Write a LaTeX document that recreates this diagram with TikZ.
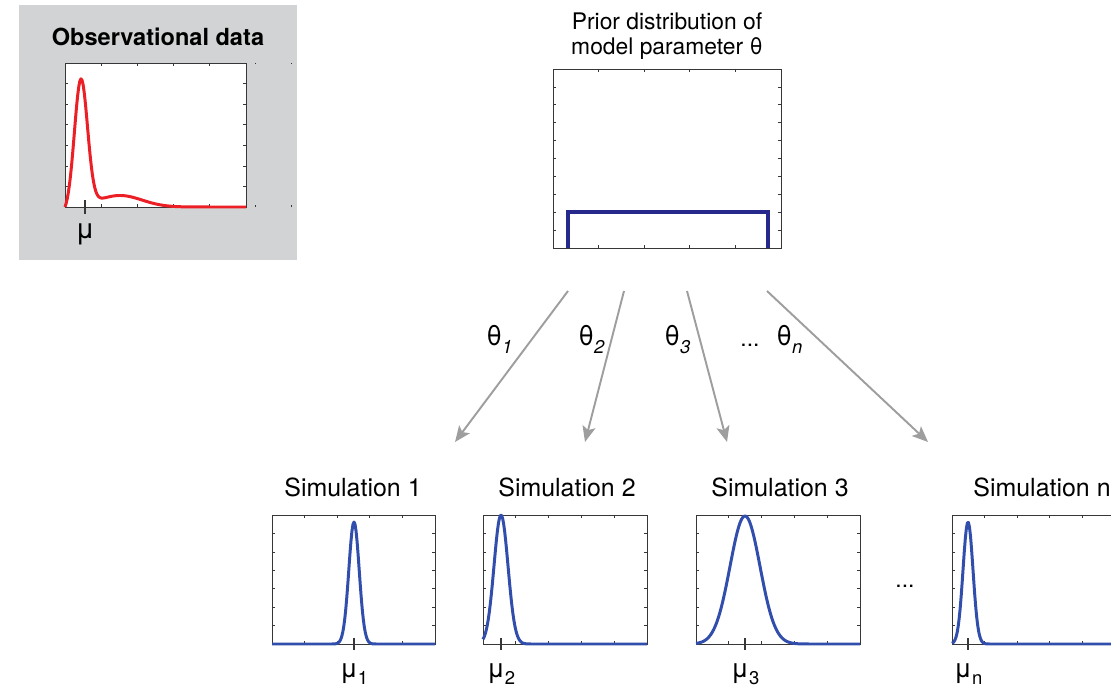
\documentclass[tikz,border=0pt]{standalone}
\usepackage{fontspec}
\setmainfont{TeX Gyre Heros}
\usetikzlibrary{arrows.meta}
\usetikzlibrary{positioning}

\definecolor{obsgray}{RGB}{209,211,212}
\definecolor{framegray}{RGB}{55,55,55}
\definecolor{arrowgray}{RGB}{158,158,158}
\definecolor{simblue}{RGB}{50,78,172}
\definecolor{priorblue}{RGB}{38,40,140}
\definecolor{obsred}{RGB}{236,30,38}

\newcommand{\lowsub}[2][4pt]{\raisebox{-#1}{\fontsize{10.5}{10.5}\selectfont #2}}

% frame with inner ticks: x0, y0, x1, y1, x-intervals, y-intervals
\newcommand{\tickframe}[6]{%
  \draw[frame] (#1,#2) rectangle (#3,#4);
  \pgfmathsetmacro{\tfdx}{(#3-#1)/#5}
  \pgfmathsetmacro{\tfdy}{(#4-#2)/#6}
  \pgfmathtruncatemacro{\tfnx}{#5-1}
  \pgfmathtruncatemacro{\tfny}{#6-1}
  \foreach \k in {1,...,\tfnx} {
    \draw[tick] ({#1+\k*\tfdx},#2) -- ++(0,3);
    \draw[tick] ({#1+\k*\tfdx},#4) -- ++(0,-3);
  }
  \foreach \k in {1,...,\tfny} {
    \draw[tick] (#1,{#2+\k*\tfdy}) -- ++(3,0);
    \draw[tick] (#3,{#2+\k*\tfdy}) -- ++(-3,0);
  }
}

\begin{document}
\begin{tikzpicture}[
    x=0.02cm, y=-0.02cm,
    frame/.style={draw=framegray, line width=0.55pt},
    tick/.style={draw=framegray, line width=0.4pt},
    curve/.style={line width=1.7pt, line join=round},
    txt/.style={font=\fontsize{13}{14}\selectfont, inner sep=0pt},
    simtxt/.style={txt, font=\fontsize{14.2}{15}\selectfont},
    mutxt/.style={txt, font=\fontsize{15}{15}\selectfont},
    thtxt/.style={txt, font=\fontsize{15.5}{15.5}\selectfont, anchor=base west},
    flow/.style={draw=arrowgray, line width=1.1pt, -{Stealth[length=9pt, width=7.5pt, inset=2pt]}}
]
\useasboundingbox (0,0) rectangle (1111,692);
\clip (0,0) rectangle (1111,692);

% --- Observational data ---
\fill[obsgray] (19,5) rectangle (297,260);
\node[txt, font=\fontsize{13.4}{14}\selectfont\bfseries] (obs) at (158,37) {Observational data};
\fill[white] (65,63) rectangle (246,207);
\tickframe{65}{63}{246}{207}{5}{7}
\foreach \xx in {255,291} {
    \draw[tick] (\xx,63) -- ++(0,1.5);
    \draw[tick] (\xx,207) -- ++(0,-1.5);
}
\draw[curve, obsred] plot[domain=65:246, samples=160]
    (\x, {207 - (1-exp(-(\x-65)/2.5))*(126*exp(max(-20, -0.5*((\x-81)/6.5)^2)) + 11.5*exp(max(-20, -0.5*((\x-120)/22)^2)))});
\draw[tick, line width=0.6pt] (85,200) -- (85,214);
\node[mutxt, anchor=base, font=\fontsize{16}{16}\selectfont] (muobs) at (85,239) {μ};

% --- Prior distribution ---
\node[txt, align=center] (prior) at (667,36) {Prior distribution of\\model parameter θ};
\tickframe{553}{69}{781}{248}{5}{10}
\draw[priorblue, line width=1.8pt] (568,248) -- (568,212) -- (768,212) -- (768,248);

% --- Arrows with parameter draws ---
\coordinate (a1s) at (568,291); \coordinate (a1e) at (455,442);
\coordinate (a2s) at (624,291); \coordinate (a2e) at (585,442);
\coordinate (a3s) at (687,291); \coordinate (a3e) at (727,442);
\coordinate (a4s) at (767,291); \coordinate (a4e) at (928,442);
\foreach \i in {1,...,4}
    \draw[flow] (a\i s) -- (a\i e);

\node[thtxt] (th1) at (486,345) {θ\lowsub[5pt]{\itshape 1}};
\node[thtxt] (th2) at (578,345) {θ\lowsub[5pt]{\itshape 2}};
\node[thtxt] (th3) at (664,345) {θ\lowsub[5pt]{\itshape 3}};
\node[txt, anchor=base] (thdots) at (750,346) {...};
\node[thtxt] (thn) at (776,345) {θ\lowsub[5pt]{\itshape n}};

% --- Simulations ---
\foreach \xa/\xb/\pk/\s/\h/\tx/\i in {272/435/354/5.2/122/353/1, 483/647/501/7/129/567/2, 696/860/745/15/128/780/3, 952/1115/968/5/122/1042/n}
{
    \node[simtxt, anchor=base] (sim\i) at (\tx,496) {Simulation \i};
    \tickframe{\xa}{515}{\xb}{644}{5}{7}
    \draw[curve, simblue] plot[domain=\xa:\xb, samples=160]
        (\x, {644 - \h*exp(max(-20, -0.5*((\x-\pk)/\s)^2))});
    \draw[tick, line width=0.6pt] (\pk,638) -- (\pk,650);
    \node[mutxt, anchor=base] (mu\i) at (\pk,677) {μ\lowsub{\i}};
}
\node[txt, anchor=base] (simdots) at (905,587) {...};

\end{tikzpicture}
\end{document}
